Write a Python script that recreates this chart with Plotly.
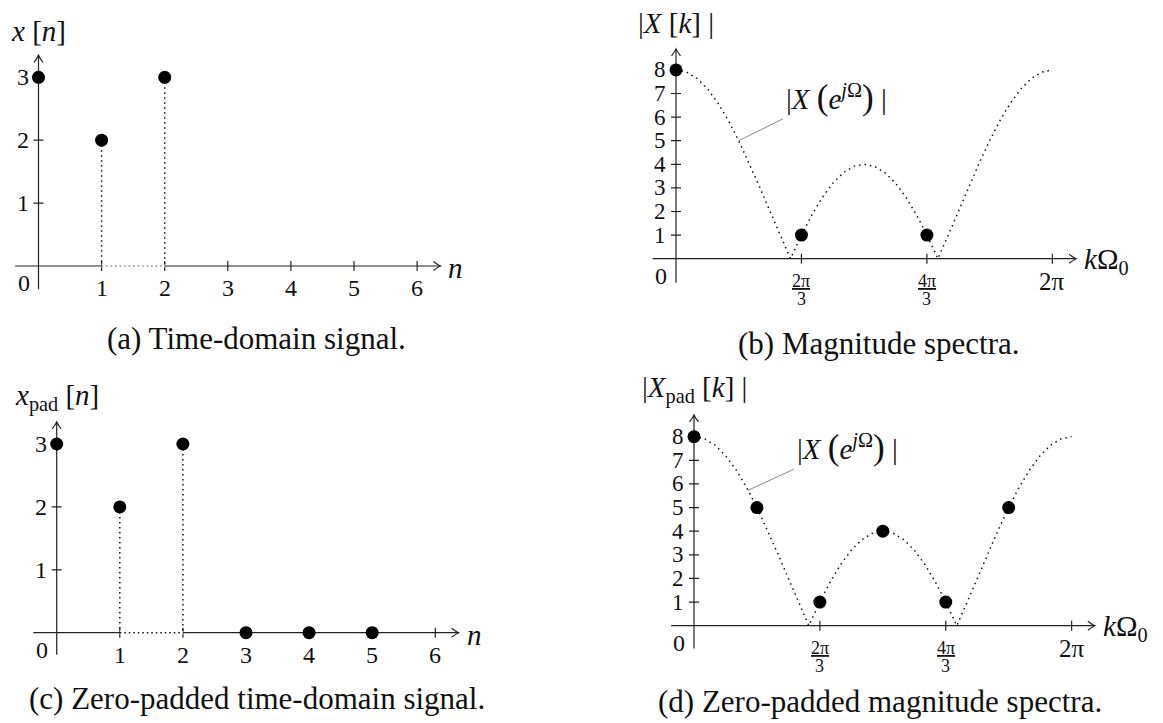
import math
import plotly.graph_objects as go

W, H = 1163, 723
SERIF = "Liberation Serif"
INK = "#111111"
AXIS_INK = "#222222"

# ---- time-domain samples -------------------------------------------------
n_time = [0, 1, 2]
x_time = [3, 2, 3]
n_pad = [0, 1, 2, 3, 4, 5]
x_pad = [3, 2, 3, 0, 0, 0]

# ---- DFT magnitudes (bin k sits at k * 2*pi / N) -------------------------
N_dft = 3
X_dft = [8, 1, 1]
N_pad = 6
X_pad = [8, 5, 1, 4, 1, 5]

# ---- DTFT magnitude along the dotted envelope (angle in degrees) ---------
dtft_deg = [0, 10, 20, 30, 40, 50, 60, 70, 80, 90, 100, 109.5,
            120, 130, 140, 150, 160, 170, 180,
            190, 200, 210, 220, 230, 240, 250.5,
            260, 270, 280, 290, 300, 310, 320, 330, 340, 350, 360]
dtft_mag = [8.0, 7.91, 7.64, 7.2, 6.6, 5.86, 5.0, 4.05, 3.04, 2.0, 0.96, 0.0,
            1.0, 1.86, 2.6, 3.2, 3.64, 3.91, 4.0,
            3.91, 3.64, 3.2, 2.6, 1.86, 1.0, 0.0,
            0.96, 2.0, 3.04, 4.05, 5.0, 5.86, 6.6, 7.2, 7.64, 7.91, 8.0]

# ---- tick definitions ----------------------------------------------------
time_ticks = [1, 2, 3, 4, 5, 6]
amp_ticks = [1, 2, 3]
mag_ticks = [1, 2, 3, 4, 5, 6, 7, 8]
freq_ticks_pi = [2 / 3, 4 / 3, 2]          # multiples of pi
freq_tick_num = ["2π", "4π", "2π"]
freq_tick_den = ["3", "3", None]

# ---- panel geometry: origin in pixels, pixels per unit, ranges ----------
PANELS = {
    "a": dict(ref=("x", "y"), ox=38.5, oy=266.0, sx=63.1, sy=62.9,
              xr=(-0.5, 6.7), yr=(-0.5, 4.0), xa=(-0.37, 6.37), ya=(-0.37, 3.35)),
    "b": dict(ref=("x2", "y2"), ox=676.0, oy=258.7, sx=59.9, sy=23.6,
              xr=(-0.5, 6.9), yr=(-1.2, 10.5), xa=(-0.39, 6.68), ya=(-1.02, 8.89)),
    "c": dict(ref=("x3", "y3"), ox=56.7, oy=632.7, sx=63.1, sy=62.9,
              xr=(-0.5, 6.7), yr=(-0.5, 4.0), xa=(-0.37, 6.37), ya=(-0.35, 3.35)),
    "d": dict(ref=("x4", "y4"), ox=694.0, oy=625.7, sx=60.1, sy=23.63,
              xr=(-0.5, 6.9), yr=(-1.2, 10.5), xa=(-0.38, 6.67), ya=(-0.96, 8.92)),
}

PAREN = "<span style='font-size:35px'>{}</span>"
DTFT_LABEL = ("|<i>X</i> " + PAREN.format("(") + "<i>e</i><sup><i>j</i>Ω</sup>"
              + PAREN.format(")") + " |")


def axis_layout(p):
    x0 = (p["ox"] + p["xr"][0] * p["sx"]) / W
    x1 = (p["ox"] + p["xr"][1] * p["sx"]) / W
    top = p["oy"] - p["yr"][1] * p["sy"]
    bot = p["oy"] - p["yr"][0] * p["sy"]
    common = dict(visible=False, fixedrange=True, showgrid=False, zeroline=False)
    xa = dict(domain=[x0, x1], range=list(p["xr"]), **common)
    ya = dict(domain=[1 - bot / H, 1 - top / H], range=list(p["yr"]), **common)
    return xa, ya


fig = go.Figure()
shapes = []
annotations = []


def txt(p, x, y, s, size, xanchor="center", yanchor="middle", xshift=0, yshift=0):
    xr, yr = p["ref"]
    annotations.append(dict(x=x, y=y, xref=xr, yref=yr, text=s, showarrow=False,
                            xanchor=xanchor, yanchor=yanchor, xshift=xshift, yshift=yshift,
                            font=dict(family=SERIF, size=size, color=INK)))


def draw_axes(p, xticks, yticks, xlabel, ytick_size):
    xr, yr = p["ref"]
    ln = dict(color=AXIS_INK, width=1.2)
    shapes.append(dict(type="line", xref=xr, yref=yr, x0=p["xa"][0], x1=p["xa"][1],
                       y0=0, y1=0, line=ln, layer="below"))
    shapes.append(dict(type="line", xref=xr, yref=yr, x0=0, x1=0,
                       y0=p["ya"][0], y1=p["ya"][1], line=ln, layer="below"))
    # open arrow tips
    shapes.append(dict(type="path", xref=xr, yref=yr, xsizemode="pixel", ysizemode="pixel",
                       xanchor=p["xa"][1], yanchor=0,
                       path="M-7,-4.5 Q-2.5,-1 0,0 Q-2.5,1 -7,4.5", line=ln, layer="below"))
    shapes.append(dict(type="path", xref=xr, yref=yr, xsizemode="pixel", ysizemode="pixel",
                       xanchor=0, yanchor=p["ya"][1],
                       path="M-4.5,-7 Q-1,-2.5 0,0 Q1,-2.5 4.5,-7", line=ln, layer="below"))
    for t in xticks:
        shapes.append(dict(type="line", xref=xr, yref=yr, x0=t, x1=t, ysizemode="pixel",
                           yanchor=0, y0=-5, y1=5, line=ln, layer="below"))
    for t in yticks:
        shapes.append(dict(type="line", xref=xr, yref=yr, y0=t, y1=t, xsizemode="pixel",
                           xanchor=0, x0=-5, x1=5, line=ln, layer="below"))
    for t in yticks:
        txt(p, 0, t, str(t), ytick_size, xanchor="right", xshift=-8)
    txt(p, 0, 0, "0", 24, xshift=-15, yshift=-17)
    txt(p, p["xa"][1], 0, xlabel, 29, xanchor="left", xshift=6, yshift=-2)


def time_panel(p, n, x, link_color, ylabel):
    xr, yr = p["ref"]
    draw_axes(p, time_ticks, amp_ticks, "<i>n</i>", 24)
    txt(p, 0, 3.74, ylabel, 29)
    for t in time_ticks:
        txt(p, t, 0, str(t), 24, yshift=-22)
    # the baseline between the first two non-zero stems is drawn dotted
    nz = [k for k, v in zip(n, x) if v != 0]
    shapes.append(dict(type="line", xref=xr, yref=yr, x0=nz[1], x1=nz[-1], y0=0, y1=0,
                       line=dict(color="white", width=3), layer="below"))
    sx, sy = [], []
    for k, v in zip(n, x):
        if v != 0 and k != 0:
            sx += [k, k, None]
            sy += [v, 0, None]
    fig.add_trace(go.Scatter(x=sx, y=sy, mode="lines", xaxis=xr, yaxis=yr,
                             line=dict(color=INK, width=1.5, dash="1.5px,3.5px"),
                             hoverinfo="skip"))
    fig.add_trace(go.Scatter(x=[nz[1], nz[-1]], y=[0, 0], mode="lines", xaxis=xr, yaxis=yr,
                             line=dict(color=link_color, width=1.5, dash="1.5px,3px"),
                             hoverinfo="skip"))
    fig.add_trace(go.Scatter(x=n, y=x, mode="markers", xaxis=xr, yaxis=yr, cliponaxis=False,
                             marker=dict(color="black", size=13), hoverinfo="skip"))


def spectrum_panel(p, N, mags, ylabel, pin, label_at):
    xr, yr = p["ref"]
    fticks = [m * math.pi for m in freq_ticks_pi]
    draw_axes(p, fticks, mag_ticks, "<i>k</i>Ω<sub>0</sub>", 23)
    txt(p, 0, 10.0, ylabel, 29)
    for t, num, den in zip(fticks, freq_tick_num, freq_tick_den):
        if den is None:
            txt(p, t, 0, num, 25, yshift=-23)
        else:
            txt(p, t, 0, "<u>" + num + "</u>", 18, yshift=-22)
            txt(p, t, 0, den, 18, yshift=-40)
    omega = [d * math.pi / 180 for d in dtft_deg]
    fig.add_trace(go.Scatter(x=omega, y=dtft_mag, mode="lines", xaxis=xr, yaxis=yr,
                             line=dict(color=INK, width=1.5, dash="1.5px,4px"),
                             hoverinfo="skip"))
    kx = [k * 2 * math.pi / N for k in range(N)]
    fig.add_trace(go.Scatter(x=kx, y=mags, mode="markers", xaxis=xr, yaxis=yr, cliponaxis=False,
                             marker=dict(color="black", size=13), hoverinfo="skip"))
    shapes.append(dict(type="line", xref=xr, yref=yr, x0=pin[0][0], y0=pin[0][1],
                       x1=pin[1][0], y1=pin[1][1], line=dict(color="#8a8a8a", width=1)))
    txt(p, label_at[0], label_at[1], DTFT_LABEL, 29, xanchor="left")


pa, pb, pc, pd = PANELS["a"], PANELS["b"], PANELS["c"], PANELS["d"]

time_panel(pa, n_time, x_time, "#8c8c8c", "<i>x</i> [<i>n</i>]")
time_panel(pc, n_pad, x_pad, INK, "<i>x</i><sub>pad</sub> [<i>n</i>]")

spectrum_panel(pb, N_dft, X_dft, "|<i>X</i> [<i>k</i>] |",
               pin=((math.pi / 3, 5.0), (1.78, 5.92)), label_at=(1.8, 6.85))
spectrum_panel(pd, N_pad, X_pad, "|<i>X</i><sub>pad</sub> [<i>k</i>] |",
               pin=((0.9, 5.73), (1.66, 6.62)), label_at=(1.68, 7.56))

# ---- sub-captions ---------------------------------------------------------
captions = [("(a) Time-domain signal.", 256, 338),
            ("(b) Magnitude spectra.", 878, 343),
            ("(c) Zero-padded time-domain signal.", 257, 698),
            ("(d) Zero-padded magnitude spectra.", 880, 701)]
for s, cx, cy in captions:
    annotations.append(dict(x=cx / W, y=1 - cy / H, xref="paper", yref="paper", text=s,
                            showarrow=False, xanchor="center", yanchor="middle",
                            font=dict(family=SERIF, size=31, color=INK)))

layout = dict(width=W, height=H, margin=dict(l=0, r=0, t=0, b=0),
              paper_bgcolor="white", plot_bgcolor="white", showlegend=False,
              shapes=shapes, annotations=annotations)
for key, p in PANELS.items():
    xa, ya = axis_layout(p)
    layout["xaxis" + p["ref"][0][1:]] = xa
    layout["yaxis" + p["ref"][1][1:]] = ya
fig.update_layout(**layout)

fig.write_html("out.html")
